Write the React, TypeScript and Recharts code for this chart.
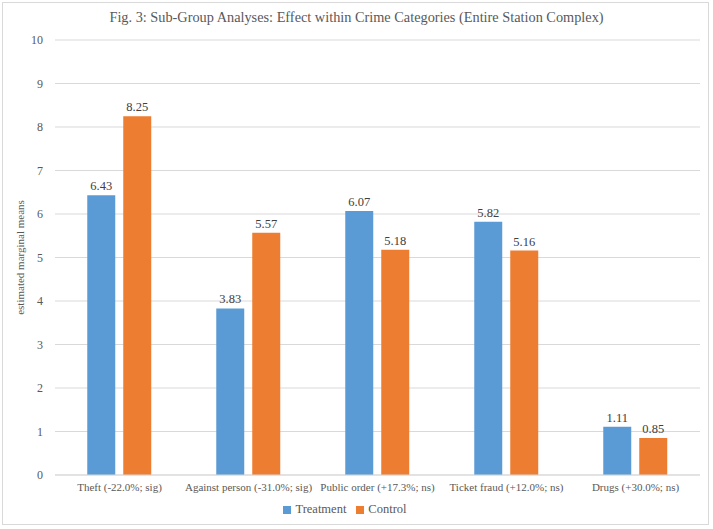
import React from "react";
import { BarChart, Bar, XAxis, YAxis, CartesianGrid, Legend, LabelList, Label } from "recharts";

const categories = [
  "Theft (-22.0%; sig)",
  "Against person (-31.0%; sig)",
  "Public order (+17.3%; ns)",
  "Ticket fraud (+12.0%; ns)",
  "Drugs (+30.0%; ns)",
];
const treatment = [6.43, 3.83, 6.07, 5.82, 1.11];
const control = [8.25, 5.57, 5.18, 5.16, 0.85];
const yTicks = [0, 1, 2, 3, 4, 5, 6, 7, 8, 9, 10];
const seriesOrder = ["Treatment", "Control"];

const data = categories.map((c, i) => ({ name: c, Treatment: treatment[i], Control: control[i] }));

const FONT = "'Liberation Serif', 'Times New Roman', serif";

export default function App() {
  return (
    <div style={{ position: "absolute", left: 0, top: 0, width: 713, height: 529, background: "#fff", fontFamily: FONT }}>
      <div
        style={{
          position: "absolute",
          left: 2,
          top: 2,
          width: 707,
          height: 523,
          border: "1px solid #D9D9D9",
          boxSizing: "border-box",
        }}
      />
      <div
        style={{
          position: "absolute",
          left: 0,
          top: 9,
          width: 713,
          textAlign: "center",
          fontSize: 14.3,
          color: "#595959",
          fontFamily: FONT,
        }}
      >
        Fig. 3: Sub-Group Analyses: Effect within Crime Categories (Entire Station Complex)
      </div>
      <div style={{ position: "absolute", left: 0, top: 0, fontFamily: FONT }}>
        <BarChart
          width={713}
          height={529}
          data={data}
          margin={{ top: 40, right: 13, bottom: 7, left: 0 }}
          barGap={8}
          barCategoryGap="25%"
          style={{ fontFamily: FONT }}
        >
          <CartesianGrid vertical={false} stroke="#D9D9D9" />
          <XAxis
            dataKey="name"
            tickLine={false}
            axisLine={{ stroke: "#D9D9D9" }}
            tick={{ fill: "#595959", fontSize: 11, fontFamily: FONT }}
            height={27}
            interval={0}
          />
          <YAxis
            domain={[0, 10]}
            ticks={yTicks}
            tickLine={false}
            axisLine={false}
            width={55}
            tick={{ fill: "#595959", fontSize: 12, fontFamily: FONT }}
            tickMargin={6}
          >
            <Label
              value="estimated marginal means"
              angle={-90}
              position="insideLeft"
              offset={20}
              style={{ textAnchor: "middle", fill: "#595959", fontSize: 11, fontFamily: FONT }}
            />
          </YAxis>
          <Legend
            verticalAlign="bottom"
            iconType="square"
            iconSize={8}
            height={20}
            itemSorter={(item: any) => seriesOrder.indexOf(item.value)}
            wrapperStyle={{ fontSize: 12.5, fontFamily: FONT, color: "#595959" }}
            formatter={(v) => <span style={{ color: "#595959", fontFamily: FONT, fontSize: 12.5 }}>{v}</span>}
          />
          <Bar dataKey="Treatment" fill="#5B9BD5" isAnimationActive={false}>
            <LabelList dataKey="Treatment" position="top" offset={5} formatter={(v: number) => v.toFixed(2)} style={{ fill: "#404040", fontSize: 12.5, fontFamily: FONT }} />
          </Bar>
          <Bar dataKey="Control" fill="#ED7D31" isAnimationActive={false}>
            <LabelList dataKey="Control" position="top" offset={5} formatter={(v: number) => v.toFixed(2)} style={{ fill: "#404040", fontSize: 12.5, fontFamily: FONT }} />
          </Bar>
        </BarChart>
      </div>
    </div>
  );
}
